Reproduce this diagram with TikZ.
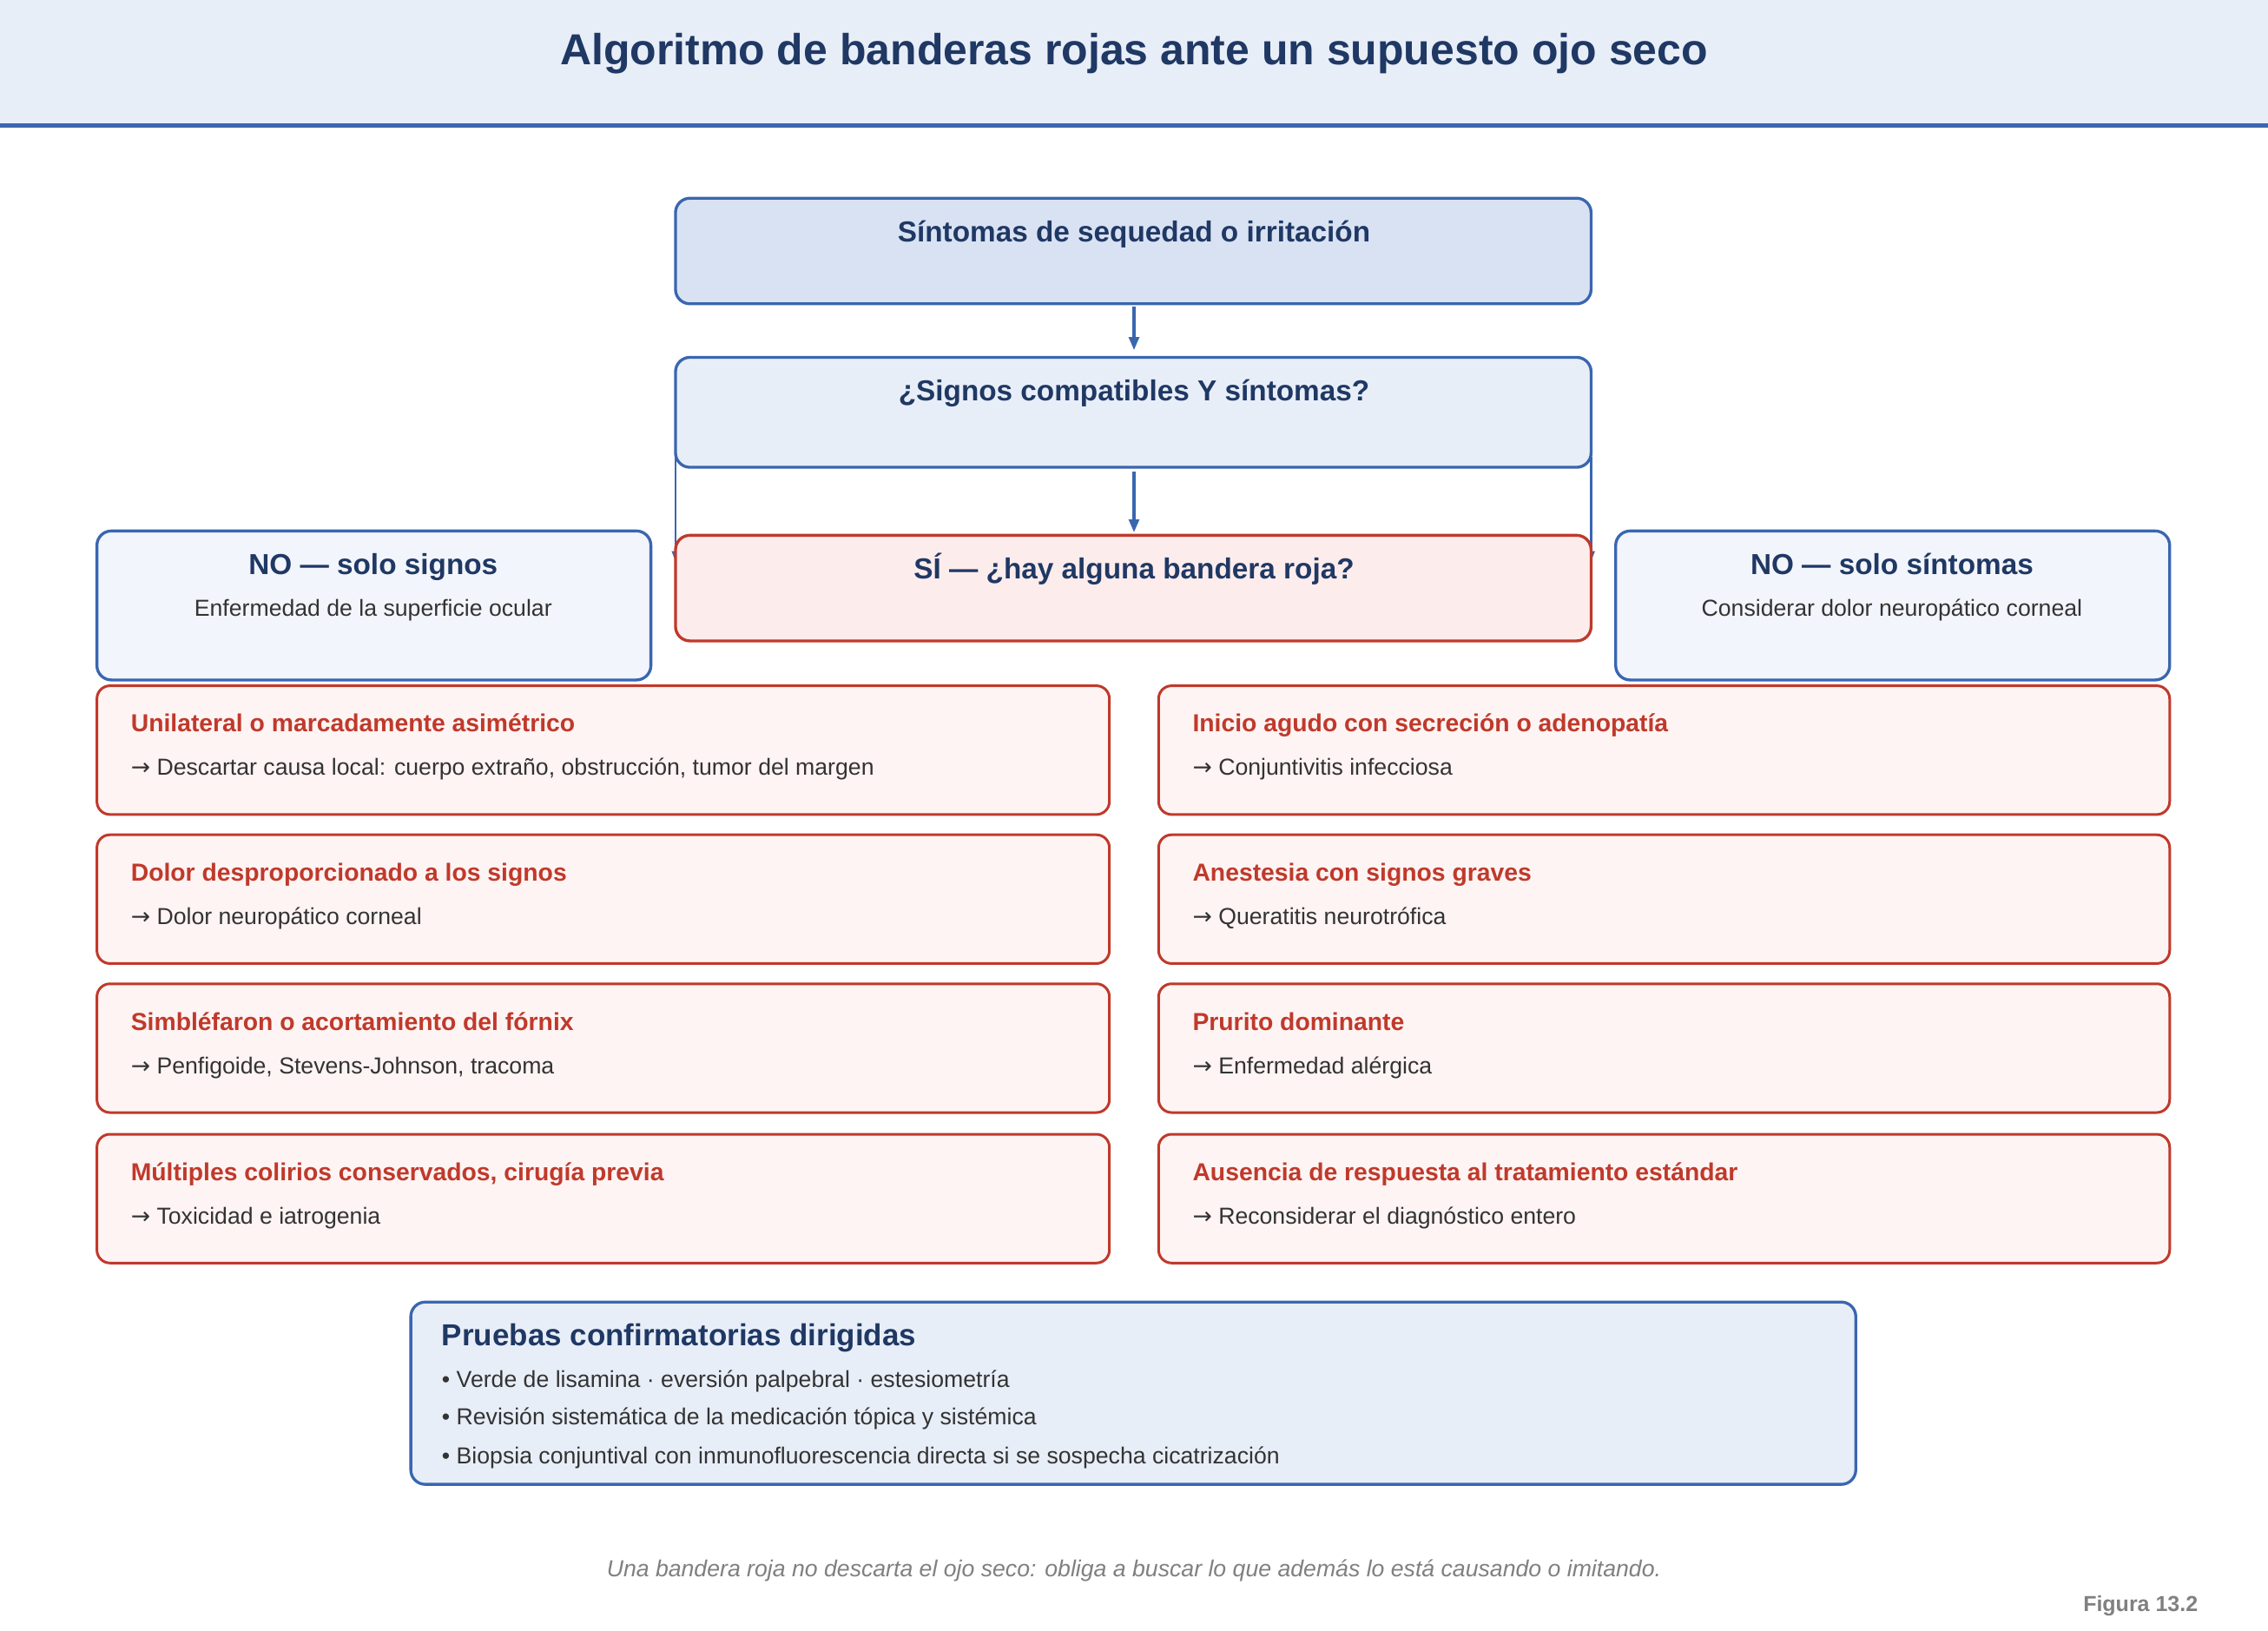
\documentclass[tikz,border=0pt]{standalone}
\usepackage{fontspec}
\setmainfont{Liberation Sans}
\newfontfamily\djfont{DejaVu Sans}
\usetikzlibrary{arrows.meta}
\definecolor{navy}{HTML}{1F3864}
\definecolor{bblue}{HTML}{3A66B0}
\definecolor{rred}{HTML}{C0392B}
\definecolor{hdr}{HTML}{E8EEF8}
\definecolor{b1}{HTML}{D9E2F3}
\definecolor{b2}{HTML}{E8EEF8}
\definecolor{nob}{HTML}{F2F5FB}
\definecolor{sib}{HTML}{FDECEC}
\definecolor{rb}{HTML}{FDF4F3}
\definecolor{txt}{HTML}{333333}
\newcommand{\myar}{{\djfont →}}
\newcommand{\fs}[1]{\fontsize{#1}{#1}\selectfont}
\begin{document}
\begin{tikzpicture}[x=1pt,y=-1pt,
 box/.style={draw=bblue,line width=2pt,rounded corners=10pt},
 rbox/.style={draw=rred,line width=1.8pt,rounded corners=9pt,fill=rb},
 arr/.style={draw=bblue,line width=2pt,-{Triangle[length=9pt,width=7pt]}},
 ttl/.style={anchor=base,font=\bfseries\fs{20},text=navy},
 rt/.style={anchor=base west,font=\bfseries\fs{17},text=rred},
 st/.style={anchor=base west,font=\fs{16},text=txt}]
\useasboundingbox (0,0) rectangle (1568,1127);
\fill[white] (0,0) rectangle (1568,1127);
\fill[hdr] (0,0) rectangle (1568,87);
\draw[bblue,line width=3pt] (0,87) -- (1568,87);
\node[anchor=base,font=\bfseries\fs{30},text=navy] (title) at (784,45) {Algoritmo de banderas rojas ante un supuesto ojo seco};
% top boxes
\draw[box,fill=b1] (467,137) rectangle (1100,210);
\node[ttl] (t1) at (784,167) {Síntomas de sequedad o irritación};
\coordinate (b1s) at (784,212); \coordinate (b2n) at (784,242);
\draw[arr] (b1s) -- (b2n);
\draw[box,fill=b2] (467,247) rectangle (1100,323);
\node[ttl] (t2) at (784,277) {¿Signos compatibles Y síntomas?};
\coordinate (b2s) at (784,326); \coordinate (sin) at (784,368);
\draw[arr] (b2s) -- (sin);
\coordinate (l1) at (467,316); \coordinate (l2) at (467,388);
\coordinate (r1) at (1100,316); \coordinate (r2) at (1100,388);
\draw[bblue,line width=1.3pt,-{Triangle[length=7pt,width=5pt]}] (l1) -- (l2);
\draw[bblue,line width=1.3pt,-{Triangle[length=7pt,width=5pt]}] (r1) -- (r2);
\draw[draw=rred,line width=2pt,rounded corners=10pt,fill=sib] (467,370) rectangle (1100,443);
\node[ttl] (si) at (784,400) {SÍ — ¿hay alguna bandera roja?};
\draw[box,fill=nob] (67,367) rectangle (450,470);
\node[ttl] (nol) at (258,397) {NO — solo signos};
\node[anchor=base,font=\fs{16},text=txt] (nols) at (258,426) {Enfermedad de la superficie ocular};
\draw[box,fill=nob] (1117,367) rectangle (1500,470);
\node[ttl] (nor) at (1308,397) {NO — solo síntomas};
\node[anchor=base,font=\fs{16},text=txt] (nors) at (1308,426) {Considerar dolor neuropático corneal};
% red boxes
\foreach \y/\a/\b/\c/\d in {
 474/{Unilateral o marcadamente asimétrico}/{\myar\ Descartar causa local: cuerpo extraño, obstrucción, tumor del margen}/{Inicio agudo con secreción o adenopatía}/{\myar\ Conjuntivitis infecciosa},
 577/{Dolor desproporcionado a los signos}/{\myar\ Dolor neuropático corneal}/{Anestesia con signos graves}/{\myar\ Queratitis neurotrófica},
 680/{Simbléfaron o acortamiento del fórnix}/{\myar\ Penfigoide, Stevens-Johnson, tracoma}/{Prurito dominante}/{\myar\ Enfermedad alérgica},
 784/{Múltiples colirios conservados, cirugía previa}/{\myar\ Toxicidad e iatrogenia}/{Ausencia de respuesta al tratamiento estándar}/{\myar\ Reconsiderar el diagnóstico entero}}{
 \draw[rbox] (67,\y) rectangle (767,\y+89);
 \node[rt] at (87,\y+32) {\a};
 \node[st] at (87,\y+62) {\b};
 \draw[rbox] (801,\y) rectangle (1500,\y+89);
 \node[rt] at (821,\y+32) {\c};
 \node[st] at (821,\y+62) {\d};
}
% pruebas
\draw[box,fill=b2] (284,900) rectangle (1283,1026);
\node[anchor=base west,font=\bfseries\fs{21},text=navy] (pt) at (302,930) {Pruebas confirmatorias dirigidas};
\node[st] (p1) at (302,959) {• Verde de lisamina · eversión palpebral · estesiometría};
\node[st] (p2) at (302,985) {• Revisión sistemática de la medicación tópica y sistémica};
\node[st] (p3) at (302,1012) {• Biopsia conjuntival con inmunofluorescencia directa si se sospecha cicatrización};
\node[anchor=base,font=\itshape\fs{16},text=gray] (cap) at (784,1090) {Una bandera roja no descarta el ojo seco: obliga a buscar lo que además lo está causando o imitando.};
\node[anchor=base east,font=\bfseries\fs{15},text=gray] (fig) at (1523,1114) {Figura 13.2};
\end{tikzpicture}
\end{document}
